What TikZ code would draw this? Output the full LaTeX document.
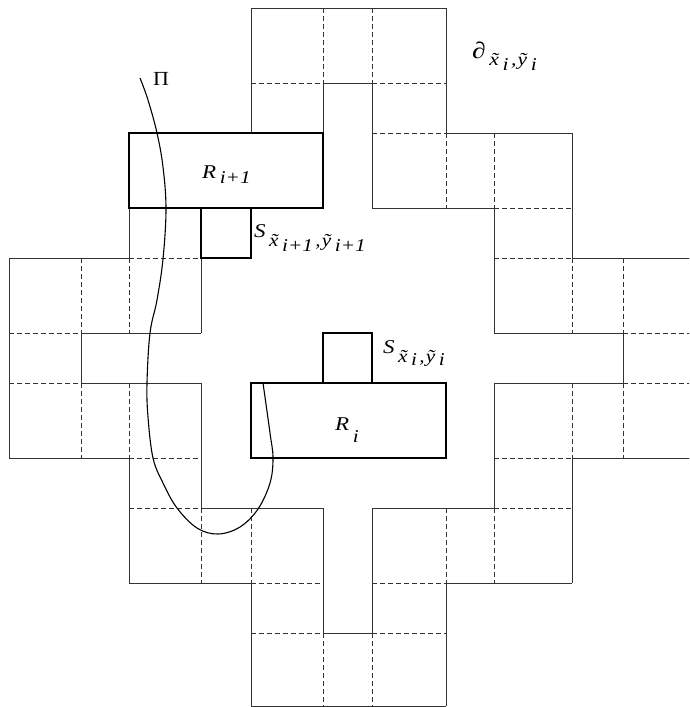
\documentclass[tikz,border=0pt]{standalone}
\usepackage{graphicx}
\usepackage{fontspec}
\setmainfont{Liberation Serif}
\newcommand\mainfs{\fontsize{19.5}{20}\selectfont}
\newcommand\subfs{\fontsize{18}{18}\selectfont}
% a tilde letter with a lowered index
\newcommand\tl[3]{\~{#1}\hspace{3pt}\raisebox{-#3}{#2}}
\newcommand\mylab[3]{\scalebox{1.18}[1]{{\mainfs\itshape #1}\hspace{3pt}\raisebox{-#3}{\subfs\itshape #2}}}
\begin{document}
\begin{tikzpicture}[x=1pt,y=-1pt,
  ringsolid/.style={line width=0.8pt, draw=black!80},
  ringdash/.style={line width=0.8pt, draw=black!80, dash pattern=on 4.5pt off 3.5pt},
  boxline/.style={line width=2pt, draw=black, fill=white},
  pathline/.style={line width=1.1pt, draw=black},
  lab/.style={inner sep=0pt, anchor=base west}]
\useasboundingbox (0,0) rectangle (689,707);
\clip (0,0) rectangle (689,707);
\foreach \i/\px in {0/9,3/81,5/129,8/201,10/251,13/323,15/372,18/446,20/494,23/572,25/623,28/696}{
  \foreach \j/\py in {0/8,3/83,5/133,8/208,10/258,13/333,15/383,18/458,20/508,23/583,25/633,28/706}{
    \coordinate (g\i-\j) at (\px,\py);
  }
}
% ring: solid lines
\draw[ringsolid]
  % top arm
  (g10-0)--(g10-5) (g13-3)--(g13-8) (g15-3)--(g15-8) (g18-0)--(g18-5)
  (g10-0)--(g18-0) (g13-3)--(g15-3) (g5-5)--(g10-5) (g18-5)--(g23-5)
  (g8-8)--(g13-8) (g15-8)--(g20-8)
  % right arm
  (g23-10)--(g28-10) (g20-13)--(g25-13) (g20-15)--(g25-15) (g23-18)--(g28-18)
  (g28-10)--(g28-18) (g25-13)--(g25-15) (g23-5)--(g23-10) (g23-18)--(g23-23)
  (g20-8)--(g20-13) (g20-15)--(g20-20)
  % bottom arm
  (g18-23)--(g18-28) (g15-20)--(g15-25) (g13-20)--(g13-25) (g10-23)--(g10-28)
  (g10-28)--(g18-28) (g13-25)--(g15-25) (g18-23)--(g23-23) (g5-23)--(g10-23)
  (g15-20)--(g20-20) (g8-20)--(g13-20)
  % left arm
  (g0-18)--(g5-18) (g3-15)--(g8-15) (g3-13)--(g8-13) (g0-10)--(g5-10)
  (g0-10)--(g0-18) (g3-13)--(g3-15) (g5-18)--(g5-23) (g5-5)--(g5-10)
  (g8-15)--(g8-20) (g8-8)--(g8-13);
% ring: dashed lines
\draw[ringdash]
  % top arm
  (g10-5)--(g10-8) (g13-0)--(g13-3) (g15-0)--(g15-3) (g18-5)--(g18-8)
  (g10-3)--(g13-3) (g15-3)--(g18-3) (g10-5)--(g13-5) (g15-5)--(g18-5)
  (g5-8)--(g8-8) (g20-8)--(g23-8)
  % right arm
  (g20-10)--(g23-10) (g25-13)--(g28-13) (g25-15)--(g28-15) (g20-18)--(g23-18)
  (g25-10)--(g25-13) (g25-15)--(g25-18) (g23-10)--(g23-13) (g23-15)--(g23-18)
  (g20-5)--(g20-8) (g20-20)--(g20-23)
  % bottom arm
  (g18-20)--(g18-23) (g15-25)--(g15-28) (g13-25)--(g13-28) (g10-20)--(g10-23)
  (g15-25)--(g18-25) (g10-25)--(g13-25) (g15-23)--(g18-23) (g10-23)--(g13-23)
  (g20-20)--(g23-20) (g5-20)--(g8-20)
  % left arm
  (g5-18)--(g8-18) (g0-15)--(g3-15) (g0-13)--(g3-13) (g5-10)--(g8-10)
  (g3-15)--(g3-18) (g3-10)--(g3-13) (g5-15)--(g5-18) (g5-10)--(g5-13)
  (g8-20)--(g8-23) (g8-5)--(g8-8);
% boxes
\draw[boxline] (g5-5) rectangle (g13-8);
\draw[boxline] (g10-15) rectangle (g18-18);
\draw[boxline] (g8-8) rectangle (g10-10);
\draw[boxline] (g13-13) rectangle (g15-15);
% path Pi
\draw[pathline] plot[smooth, tension=0.6] coordinates {
  (140,78) (148,100) (157,133) (163,167) (166,209) (163,259) (157,300)
  (150,333) (147,383) (148,417) (153,458) (163,483) (177,508) (197,528)
  (218,534) (240,527) (258,509) (270,483) (273,458) (270,433) (263,383)};
% labels
\node[lab] (pi) at (153,85) {\scalebox{1.1}[1]{\fontsize{20}{20}\selectfont Π}};
\node[lab] (rnext) at (202,178) {\mylab{R}{i+1}{5pt}};
\node[lab] (snext) at (254,237) {\mylab{S}{\tl{x}{i+1}{5pt}\hspace{2pt},\hspace{1pt}\tl{y}{i+1}{5pt}}{9pt}};
\node[lab] (si) at (383,353) {\mylab{S}{\tl{x}{i}{3pt}\hspace{2pt},\hspace{1pt}\tl{y}{i}{3pt}}{9pt}};
\node[lab] (ri) at (335,430) {\mylab{R}{i}{12pt}};
\node[lab] (bd) at (472,58) {\scalebox{1.2}[1]{{\fontsize{23}{23}\selectfont ∂}\hspace{3pt}\raisebox{-7pt}{\subfs\itshape \tl{x}{i}{5pt}\hspace{2pt},\hspace{1pt}\tl{y}{i}{5pt}}}};
\end{tikzpicture}
\end{document}
